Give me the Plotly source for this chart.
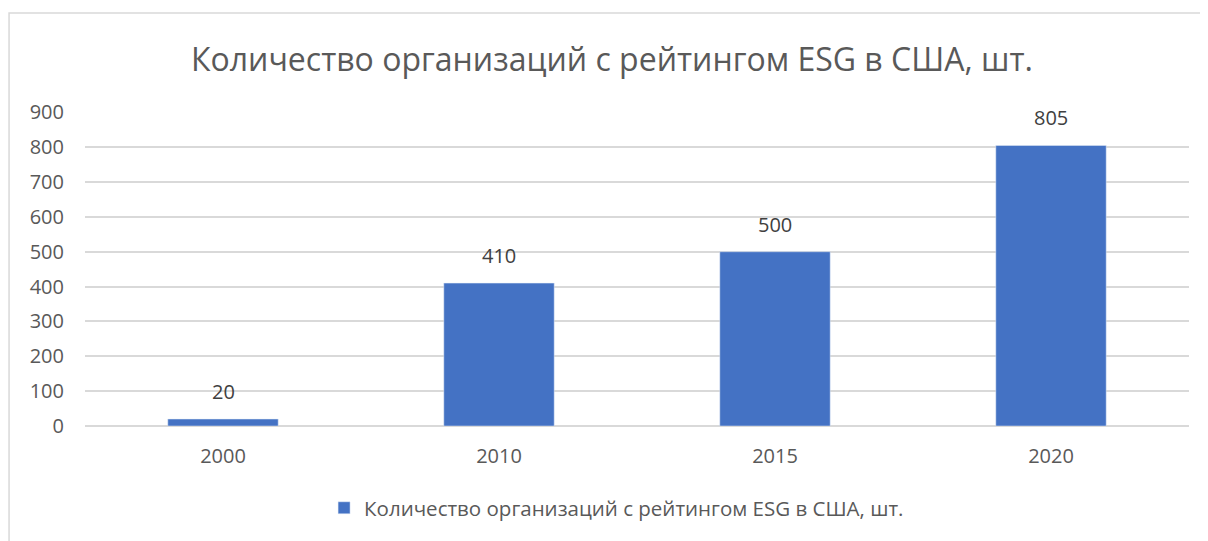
import plotly.graph_objects as go

categories = ["2000", "2010", "2015", "2020"]
values = [20, 410, 500, 805]
series_name = "Количество организаций с рейтингом ESG в США, шт."
title_text = "Количество организаций с рейтингом ESG в США, шт."
y_ticks = [0, 100, 200, 300, 400, 500, 600, 700, 800, 900]

FONT = "Open Sans"
BAR = "#4472C4"
GRID = "#d9d9d9"
TXT = "#595959"

xpos = list(range(len(categories)))

fig = go.Figure()
fig.add_trace(go.Bar(x=xpos, y=values, name=series_name, marker_color=BAR,
                     width=0.4, showlegend=True))

for xi, v in zip(xpos, values):
    fig.add_annotation(x=xi, y=v, text=str(v), showarrow=False, yanchor="bottom",
                       yshift=12, font=dict(family=FONT, size=20, color="#404040"))

fig.add_shape(type="rect", xref="paper", yref="paper", x0=-0.0688, x1=1.1,
              y0=-0.45, y1=1.315, line=dict(color=GRID, width=1.5), fillcolor="rgba(0,0,0,0)",
              layer="below")

W, H = 1200, 533
fig.update_layout(
    width=W, height=H,
    margin=dict(l=77, r=19, t=104, b=115, autoexpand=False),
    paper_bgcolor="white", plot_bgcolor="white",
    title=dict(text=title_text, x=604 / W, xanchor="center", y=1 - 52 / H, yanchor="middle",
               font=dict(family=FONT, size=32, color=TXT)),
    font=dict(family=FONT, size=20, color=TXT),
    showlegend=True,
    legend=dict(orientation="h", x=0.4815, xanchor="center", y=-0.261, yanchor="middle",
                font=dict(family=FONT, size=20.5, color=TXT), itemwidth=30),
    xaxis=dict(range=[-0.5, 3.5], tickvals=xpos, ticktext=categories, showgrid=False,
               showline=False, zeroline=False, ticks="", ticklabelstandoff=16,
               tickfont=dict(family=FONT, size=20, color=TXT)),
    yaxis=dict(range=[0, 901], tickvals=y_ticks, showgrid=True, gridcolor=GRID, gridwidth=1.5,
               zeroline=True, zerolinecolor=GRID, zerolinewidth=1.5, showline=False, ticks="",
               ticklabelstandoff=20, tickfont=dict(family=FONT, size=20, color=TXT)),
)

fig.write_html("out.html")
